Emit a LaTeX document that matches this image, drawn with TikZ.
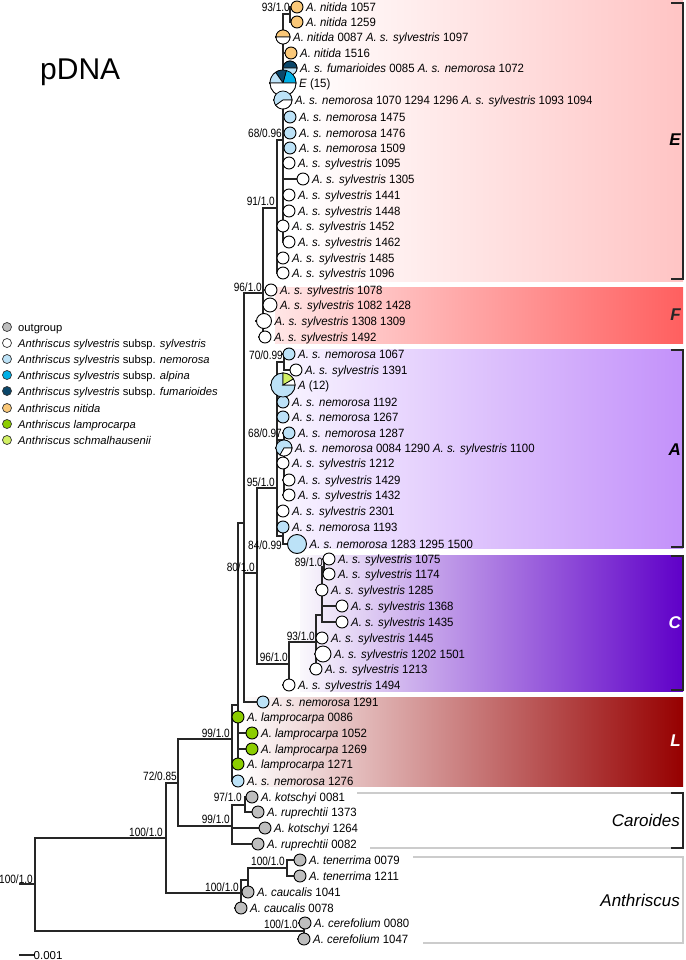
\documentclass[tikz,border=0pt]{standalone}
\usepackage{fontspec}
\setmainfont{Liberation Sans}
\newfontfamily\tipf[FakeStretch=0.95]{Liberation Sans}
\newfontfamily\narf[FakeStretch=0.84]{Liberation Sans}
\usetikzlibrary{calc}
\pgfdeclarelayer{bgbox}
\pgfdeclarelayer{lines}
\pgfsetlayers{bgbox,lines,main}
\definecolor{cOut}{RGB}{190,190,190}
\definecolor{cNem}{RGB}{188,226,247}
\definecolor{cAlp}{RGB}{0,176,230}
\definecolor{cFum}{RGB}{10,70,105}
\definecolor{cNit}{RGB}{250,200,120}
\definecolor{cLam}{RGB}{140,205,0}
\definecolor{cSch}{RGB}{210,240,100}
\tikzset{
 branch/.style={draw=black!85, line width=1.3pt, line cap=rect},
 leafc/.style={circle, draw=black, line width=0.9pt, inner sep=0pt},
 tiplab/.style={anchor=base west, inner sep=0pt, font=\tipf\fontsize{12}{14}\selectfont},
 blab/.style={anchor=east, inner sep=0pt, font=\narf\fontsize{12}{14}\selectfont},
 bracket/.style={draw=black!85, line width=1.2pt},
 graybox/.style={draw=black!20, line width=1.3pt},
 cladelab/.style={anchor=east, inner sep=0pt, font=\fontsize{17}{20}\selectfont\bfseries\itshape},
 groupl/.style={anchor=east, inner sep=0pt, font=\fontsize{17}{20}\selectfont\itshape},
 leglab/.style={anchor=base west, inner sep=0pt, font=\fontsize{11.2}{13}\selectfont},
 legc/.style={circle, draw=black!80, line width=0.7pt, inner sep=0pt, minimum size=9pt},
}
\newcommand{\leaf}[6]{%
 \node[leafc, minimum size={2*#4pt}, fill=#5] (#1) at (#2,#3) {};
 \node[tiplab] (#1-l) at ([xshift=2.5pt, yshift=-4.3pt]#1.east) {#6};}
\newcommand{\slice}[5]{\filldraw[fill=#5, draw=black, line width=0.7pt] (#1.center) -- ++({-(#3)}:#2) arc[start angle={-(#3)}, end angle={-(#4)}, radius=#2] -- cycle;}
\newcommand{\vb}[3]{\draw[branch] (#1 |- #2) -- (#1 |- #3);}
\newcommand{\hb}[2]{\draw[branch] (#1 |- #2) -- (#2.west);}
\newcommand{\ib}[2]{\draw[branch] (#1 |- #2) -- (#2);}
\newcommand{\sy}{\textit{A. s. sylvestris}}
\newcommand{\nm}{\textit{A. s. nemorosa}}
\begin{document}
\begin{tikzpicture}[x=1pt, y=-1pt]
\useasboundingbox (0,0) rectangle (685,960);
% ---------- clade boxes ----------
\begin{pgfonlayer}{bgbox}
\shade[left color=white, right color={rgb,255:red,255;green,196;blue,196}] (295,1) rectangle (683,281);
\shade[left color={rgb,255:red,255;green,230;blue,230}, right color={rgb,255:red,255;green,95;blue,95}] (275,287) rectangle (683,343);
\shade[left color={rgb,255:red,247;green,242;blue,255}, right color={rgb,255:red,195;green,145;blue,250}] (290,349) rectangle (683,548);
\shade[left color={rgb,255:red,250;green,248;blue,252}, middle color={rgb,255:red,190;green,155;blue,230}, right color={rgb,255:red,95;green,0;blue,200}] (300,555) rectangle (683,691);
\shade[left color=white, middle color={rgb,255:red,225;green,175;blue,175}, right color={rgb,255:red,150;green,0;blue,0}] (240,697) rectangle (683,786);
\end{pgfonlayer}
\draw[graybox] (357,793) -- (683,793);
\draw[graybox] (370,848) -- (683,848);
\draw[graybox] (413,857) -- (683,857) -- (683,943) -- (423,943);
\draw[bracket] (671,3) -- (683,3) -- (683,279) -- (671,279);
\draw[bracket] (671,350) -- (683,350) -- (683,547) -- (671,547);
\draw[bracket] (671,556) -- (683,556) -- (683,690) -- (671,690);
\draw[bracket] (671,793) -- (683,793) -- (683,848) -- (671,848);
\node[cladelab] (cE) at (681,140) {E};
\node[cladelab, text=black!85] (cF) at (681,315) {F};
\node[cladelab] (cA) at (681,450) {A};
\node[cladelab, text=white] (cC) at (681,623) {C};
\node[cladelab, text=white] (cL) at (681,741) {L};
\node[groupl] (cCar) at (680,820) {Caroides};
\node[groupl] (cAnt) at (680,900) {Anthriscus};
% ---------- title ----------
\node[anchor=west, inner sep=0pt, font=\fontsize{30}{34}\selectfont] (title) at (40,72) {pDNA};
% ---------- legend ----------
\node[legc, fill=cOut] (lg1) at (7,327) {};
\node[legc, fill=white] (lg2) at (7,343) {};
\node[legc, fill=cNem] (lg3) at (7,359) {};
\node[legc, fill=cAlp] (lg4) at (7,375) {};
\node[legc, fill=cFum] (lg5) at (7,391) {};
\node[legc, fill=cNit] (lg6) at (7,408) {};
\node[legc, fill=cLam] (lg7) at (7,424) {};
\node[legc, fill=cSch] (lg8) at (7,440) {};
\node[leglab] at (18,331) {outgroup};
\node[leglab] at (18,347) {\textit{Anthriscus sylvestris} subsp. \textit{sylvestris}};
\node[leglab] at (18,363) {\textit{Anthriscus sylvestris} subsp. \textit{nemorosa}};
\node[leglab] at (18,379) {\textit{Anthriscus sylvestris} subsp. \textit{alpina}};
\node[leglab] at (18,395) {\textit{Anthriscus sylvestris} subsp. \textit{fumarioides}};
\node[leglab] at (18,412) {\textit{Anthriscus nitida}};
\node[leglab] at (18,428) {\textit{Anthriscus lamprocarpa}};
\node[leglab] at (18,444) {\textit{Anthriscus schmalhausenii}};
% ---------- tips ----------
\leaf{t1057}{297}{7}{6}{cNit}{\textit{A. nitida} 1057}
\leaf{t1259}{297}{22}{6}{cNit}{\textit{A. nitida} 1259}
\leaf{p0087}{283}{37}{7}{none}{\textit{A. nitida} 0087 \sy{} 1097}
\leaf{t1516}{291}{53}{6}{cNit}{\textit{A. nitida} 1516}
\leaf{pFum}{290}{68}{7}{none}{\textit{A. s. fumarioides} 0085 \nm{} 1072}
\leaf{pE}{283}{83}{13}{none}{\textit{E} (15)}
\leaf{p1070}{283}{100}{9}{none}{\nm{} 1070 1294 1296 \sy{} 1093 1094}
\leaf{t1475}{290}{117}{6}{cNem}{\nm{} 1475}
\leaf{t1476}{290}{133}{6}{cNem}{\nm{} 1476}
\leaf{t1509}{290}{148}{6}{cNem}{\nm{} 1509}
\leaf{t1095}{289}{163}{6}{white}{\sy{} 1095}
\leaf{t1305}{303}{179}{6}{white}{\sy{} 1305}
\leaf{t1441}{289}{195}{6}{white}{\sy{} 1441}
\leaf{t1448}{289}{211}{6}{white}{\sy{} 1448}
\leaf{t1452}{283}{226}{6}{white}{\sy{} 1452}
\leaf{t1462}{289}{242}{6}{white}{\sy{} 1462}
\leaf{t1485}{283}{258}{6}{white}{\sy{} 1485}
\leaf{t1096}{283}{273}{6}{white}{\sy{} 1096}
\leaf{t1078}{271}{290}{6}{white}{\sy{} 1078}
\leaf{t1082}{270}{305}{7}{white}{\sy{} 1082 1428}
\leaf{t1308}{264}{321}{7.5}{white}{\sy{} 1308 1309}
\leaf{t1492}{265}{337}{6}{white}{\sy{} 1492}
\leaf{t1067}{289}{354}{6}{cNem}{\nm{} 1067}
\leaf{t1391}{296}{370}{6}{white}{\sy{} 1391}
\leaf{pA12}{283}{385}{12}{none}{\textit{A} (12)}
\leaf{t1192}{283}{402}{6}{cNem}{\nm{} 1192}
\leaf{t1267}{283}{417}{6}{cNem}{\nm{} 1267}
\leaf{t1287}{289}{433}{6}{cNem}{\nm{} 1287}
\leaf{pA0084}{284}{448}{8}{none}{\nm{} 0084 1290 \sy{} 1100}
\leaf{t1212}{283}{463}{6}{white}{\sy{} 1212}
\leaf{t1429}{289}{480}{6}{white}{\sy{} 1429}
\leaf{t1432}{289}{495}{6}{white}{\sy{} 1432}
\leaf{t2301}{283}{511}{6}{white}{\sy{} 2301}
\leaf{t1193}{283}{527}{6}{cNem}{\nm{} 1193}
\leaf{t1283}{297}{544}{9.5}{cNem}{\nm{} 1283 1295 1500}
\leaf{t1075}{329}{559}{6}{white}{\sy{} 1075}
\leaf{t1174}{329}{574}{6}{white}{\sy{} 1174}
\leaf{t1285}{322}{590}{6}{white}{\sy{} 1285}
\leaf{t1368}{342}{606}{6}{white}{\sy{} 1368}
\leaf{t1435}{342}{622}{6}{white}{\sy{} 1435}
\leaf{t1445}{322}{638}{6}{white}{\sy{} 1445}
\leaf{t1202}{323}{654}{8}{white}{\sy{} 1202 1501}
\leaf{t1213}{316}{669}{6}{white}{\sy{} 1213}
\leaf{t1494}{289}{685}{6}{white}{\sy{} 1494}
\leaf{t1291}{263}{702}{6}{cNem}{\nm{} 1291}
\leaf{tL0086}{238}{717}{6}{cLam}{\textit{A. lamprocarpa} 0086}
\leaf{tL1052}{252}{733}{6}{cLam}{\textit{A. lamprocarpa} 1052}
\leaf{tL1269}{252}{749}{6}{cLam}{\textit{A. lamprocarpa} 1269}
\leaf{tL1271}{238}{764}{6}{cLam}{\textit{A. lamprocarpa} 1271}
\leaf{t1276}{238}{781}{6}{cNem}{\nm{} 1276}
\leaf{tK0081}{252}{797}{6}{cOut}{\textit{A. kotschyi} 0081}
\leaf{tR1373}{258}{812}{6}{cOut}{\textit{A. ruprechtii} 1373}
\leaf{tK1264}{265}{828}{6}{cOut}{\textit{A. kotschyi} 1264}
\leaf{tR0082}{258}{844}{6}{cOut}{\textit{A. ruprechtii} 0082}
\leaf{tT0079}{300}{860}{6}{cOut}{\textit{A. tenerrima} 0079}
\leaf{tT1211}{300}{876}{6}{cOut}{\textit{A. tenerrima} 1211}
\leaf{tC1041}{248}{892}{6}{cOut}{\textit{A. caucalis} 1041}
\leaf{tC0078}{241}{908}{6}{cOut}{\textit{A. caucalis} 0078}
\leaf{tCe0080}{305}{923}{6}{cOut}{\textit{A. cerefolium} 0080}
\leaf{tCe1047}{304}{939}{6}{cOut}{\textit{A. cerefolium} 1047}
% ---------- pies ----------
\slice{p0087}{7}{0}{180}{cNit}
\slice{p0087}{7}{180}{360}{white}
\slice{pFum}{7}{0}{180}{cFum}
\slice{pFum}{7}{180}{360}{cNem}
\slice{pE}{13}{0}{75}{cAlp}
\slice{pE}{13}{75}{125}{cFum}
\slice{pE}{13}{125}{180}{cNem}
\slice{pE}{13}{180}{360}{white}
\slice{p1070}{9}{0}{216}{cNem}
\slice{p1070}{9}{216}{360}{white}
\slice{pA12}{12}{90}{360}{cNem}
\slice{pA12}{12}{30}{90}{cSch}
\slice{pA12}{12}{0}{30}{white}
\slice{pA0084}{8}{0}{240}{cNem}
\slice{pA0084}{8}{240}{360}{white}
% ---------- internal nodes ----------
\coordinate (rootstub) at (20,884);
\coordinate (root) at (35,884);
\coordinate (nIn) at (166,838);
\coordinate (nCer) at (304,931);
\coordinate (n72) at (178,783);
\coordinate (nAnt) at (241,893);
\coordinate (nAnt2) at (248,880);
\coordinate (nTen) at (287,868);
\coordinate (nIng) at (232,739);
\coordinate (nCar) at (232,826);
\coordinate (nCar2) at (245,805);
\coordinate (nB1) at (238,705);
\coordinate (nB2) at (244,523);
\coordinate (nEF) at (263,293);
\coordinate (nE) at (277,208);
\coordinate (nE2) at (283,140);
\coordinate (nNit) at (290,14);
\coordinate (n80) at (257,573);
\coordinate (nA) at (277,488);
\coordinate (nA1) at (284,362);
\coordinate (nA2) at (284,440);
\coordinate (nA3) at (283,536);
\coordinate (nC) at (289,664);
\coordinate (nC2) at (316,642);
\coordinate (nC3) at (322,615);
\coordinate (nC4) at (324,567);
% ---------- support labels ----------
\node[blab] (s1) at (33,879) {100/1.0};
\node[blab] (s2) at (163,832) {100/1.0};
\node[blab] (s3) at (177,776) {72/0.85};
\node[blab] (s4) at (230,733) {99/1.0};
\node[blab] (s5) at (242,797) {97/1.0};
\node[blab] (s6) at (230,819) {99/1.0};
\node[blab] (s7) at (285,861) {100/1.0};
\node[blab] (s8) at (239,887) {100/1.0};
\node[blab] (s9) at (298,924) {100/1.0};
\node[blab] (s10) at (290,7) {93/1.0};
\node[blab] (s11) at (282,133) {68/0.96};
\node[blab] (s12) at (275,201) {91/1.0};
\node[blab] (s13) at (262,287) {96/1.0};
\node[blab] (s14) at (283,355) {70/0.99};
\node[blab] (s15) at (282,433) {68/0.97};
\node[blab] (s16) at (275,482) {95/1.0};
\node[blab] (s17) at (282,545) {84/0.99};
\node[blab] (s18) at (323,562) {89/1.0};
\node[blab] (s19) at (255,567) {80/1.0};
\node[blab] (s20) at (315,636) {93/1.0};
\node[blab] (s21) at (288,657) {96/1.0};
% ---------- scale bar ----------
\coordinate (sb1) at (20,955);
\coordinate (sb2) at (33,955);
\node[anchor=base west, inner sep=0pt, font=\fontsize{11.5}{13}\selectfont] (sbl) at (33.5,959.5) {0.001};
% ---------- branches ----------
\begin{pgfonlayer}{lines}
\draw[branch] (sb1) -- (sb2);
\draw[branch] (rootstub) -- (root);
\vb{root}{nIn}{nCer} \ib{root}{nIn} \ib{root}{nCer}
\vb{nCer}{tCe0080}{tCe1047} \hb{nCer}{tCe0080} \hb{nCer}{tCe1047}
\vb{nIn}{n72}{nAnt} \ib{nIn}{n72} \ib{nIn}{nAnt}
\vb{nAnt}{nAnt2}{tC0078} \ib{nAnt}{nAnt2} \hb{nAnt}{tC0078}
\vb{nAnt2}{nTen}{tC1041} \ib{nAnt2}{nTen} \hb{nAnt2}{tC1041}
\vb{nTen}{tT0079}{tT1211} \hb{nTen}{tT0079} \hb{nTen}{tT1211}
\vb{n72}{nIng}{nCar} \ib{n72}{nIng} \ib{n72}{nCar}
\vb{nCar}{nCar2}{tR0082} \ib{nCar}{nCar2} \hb{nCar}{tK1264} \hb{nCar}{tR0082}
\vb{nCar2}{tK0081}{tR1373} \hb{nCar2}{tK0081} \hb{nCar2}{tR1373}
\vb{nIng}{nB1}{t1276} \ib{nIng}{nB1} \hb{nIng}{t1276}
\vb{nB1}{nB2}{tL1271} \ib{nB1}{nB2} \hb{nB1}{tL0086} \hb{nB1}{tL1052} \hb{nB1}{tL1269} \hb{nB1}{tL1271}
\vb{nB2}{nEF}{t1291} \ib{nB2}{nEF} \ib{nB2}{n80} \hb{nB2}{t1291}
\vb{nEF}{nE}{t1492} \ib{nEF}{nE} \hb{nEF}{t1078} \hb{nEF}{t1082} \hb{nEF}{t1308} \hb{nEF}{t1492}
\vb{nE}{nE2}{t1096} \ib{nE}{nE2} \hb{nE}{t1452} \hb{nE}{t1485} \hb{nE}{t1096}
\vb{nE2}{nNit}{t1462} \ib{nE2}{nNit}
\hb{nE2}{p0087} \hb{nE2}{t1516} \hb{nE2}{pFum} \hb{nE2}{pE} \hb{nE2}{p1070}
\hb{nE2}{t1475} \hb{nE2}{t1476} \hb{nE2}{t1509} \hb{nE2}{t1095} \hb{nE2}{t1305}
\hb{nE2}{t1441} \hb{nE2}{t1448} \hb{nE2}{t1462}
\vb{nNit}{t1057}{t1259} \hb{nNit}{t1057} \hb{nNit}{t1259}
\vb{n80}{nA}{nC} \ib{n80}{nA} \ib{n80}{nC}
\vb{nA}{nA1}{nA3} \ib{nA}{nA1} \ib{nA}{nA2} \ib{nA}{nA3}
\hb{nA}{pA12} \hb{nA}{t1192} \hb{nA}{t1267} \hb{nA}{t2301}
\vb{nA1}{t1067}{t1391} \hb{nA1}{t1067} \hb{nA1}{t1391}
\vb{nA2}{t1287}{t1432} \hb{nA2}{t1287} \hb{nA2}{pA0084} \hb{nA2}{t1212} \hb{nA2}{t1429} \hb{nA2}{t1432}
\vb{nA3}{t1193}{t1283} \hb{nA3}{t1193} \hb{nA3}{t1283}
\vb{nC}{nC2}{t1494} \ib{nC}{nC2} \hb{nC}{t1494}
\vb{nC2}{nC3}{t1213} \ib{nC2}{nC3} \hb{nC2}{t1445} \hb{nC2}{t1202} \hb{nC2}{t1213}
\vb{nC3}{nC4}{t1435} \ib{nC3}{nC4} \hb{nC3}{t1285} \hb{nC3}{t1368} \hb{nC3}{t1435}
\vb{nC4}{t1075}{t1174} \hb{nC4}{t1075} \hb{nC4}{t1174}
\end{pgfonlayer}
\end{tikzpicture}
\end{document}
